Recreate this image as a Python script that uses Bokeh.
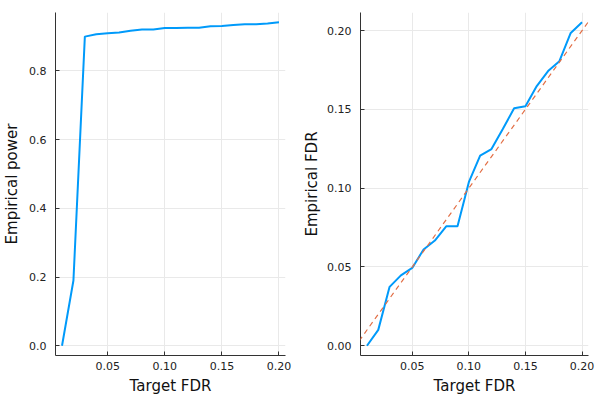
from bokeh.plotting import figure
from bokeh.models import Range1d, Slope, FixedTicker
from bokeh.layouts import row
from bokeh.embed import file_html
from bokeh.resources import INLINE

# ---- data ----
target_fdr = [0.01, 0.02, 0.03, 0.04, 0.05, 0.06, 0.07, 0.08, 0.09, 0.10,
              0.11, 0.12, 0.13, 0.14, 0.15, 0.16, 0.17, 0.18, 0.19, 0.20]
empirical_power = [0.0, 0.19, 0.900, 0.907, 0.910, 0.912, 0.917, 0.921, 0.921, 0.925,
                   0.925, 0.926, 0.926, 0.930, 0.931, 0.934, 0.936, 0.936, 0.938, 0.942]
empirical_fdr = [0.0, 0.0101, 0.0374, 0.0447, 0.0494, 0.0611, 0.0668, 0.0758, 0.0758, 0.1038,
                 0.1206, 0.1248, 0.1375, 0.1507, 0.1520, 0.1648, 0.1743, 0.1806, 0.1985, 0.2053]
x_ticks = [0.05, 0.10, 0.15, 0.20]
power_ticks = [0.0, 0.2, 0.4, 0.6, 0.8]
fdr_ticks = [0.00, 0.05, 0.10, 0.15, 0.20]

BLUE = "#009AFA"
RED = "#E26F46"
FONT = "DejaVu Sans"


def padded(vals, frac=0.03):
    lo, hi = min(vals), max(vals)
    d = (hi - lo) * frac
    return Range1d(lo - d, hi + d)


def style(p, xticks, yticks, ylabel, ylab_fmt, y_standoff, ylab_standoff):
    p.outline_line_color = None
    p.xaxis.ticker = FixedTicker(ticks=xticks)
    p.yaxis.ticker = FixedTicker(ticks=yticks)
    p.xaxis.major_label_overrides = {t: f"{t:.2f}" for t in xticks}
    p.yaxis.major_label_overrides = {t: ylab_fmt.format(t) for t in yticks}
    p.xaxis.axis_label = "Target FDR"
    p.yaxis.axis_label = ylabel
    for ax in (p.xaxis[0], p.yaxis[0]):
        ax.axis_line_color = "#333333"
        ax.axis_line_width = 1
        ax.major_tick_in = 4
        ax.major_tick_out = 0
        ax.major_tick_line_color = "#333333"
        ax.minor_tick_line_color = None
        ax.major_label_text_font = FONT
        ax.major_label_text_font_size = "11px"
        ax.major_label_text_color = "#222222"
        ax.axis_label_text_font = FONT
        ax.axis_label_text_font_size = "15px"
        ax.axis_label_text_font_style = "normal"
        ax.axis_label_text_color = "#111111"
    p.yaxis.major_label_standoff = y_standoff
    p.yaxis.axis_label_standoff = ylab_standoff
    p.xaxis.major_label_standoff = 6
    p.xaxis.axis_label_standoff = 4
    p.grid.grid_line_color = "#e9e9e9"
    p.grid.grid_line_width = 1
    p.background_fill_color = "white"
    p.border_fill_color = "white"


p1 = figure(width=300, height=400, output_backend="svg", toolbar_location=None,
            x_range=padded(target_fdr), y_range=padded(empirical_power),
            min_border_left=55, min_border_right=15, min_border_top=12, min_border_bottom=45)
p1.line(target_fdr, empirical_power, line_color=BLUE, line_width=2)
style(p1, x_ticks, power_ticks, "Empirical power", "{:.1f}", 9, 5)

p2 = figure(width=300, height=400, output_backend="svg", toolbar_location=None,
            x_range=padded(target_fdr), y_range=padded(empirical_fdr),
            min_border_left=58, min_border_right=12, min_border_top=12, min_border_bottom=45)
p2.line(target_fdr, empirical_fdr, line_color=BLUE, line_width=2)
p2.add_layout(Slope(gradient=1, y_intercept=0, line_color=RED, line_width=1.2, line_dash="5 4"))
style(p2, x_ticks, fdr_ticks, "Empirical FDR", "{:.2f}", 9, 3)

layout = row(p1, p2)
open("out.html", "w").write(file_html(layout, INLINE))
